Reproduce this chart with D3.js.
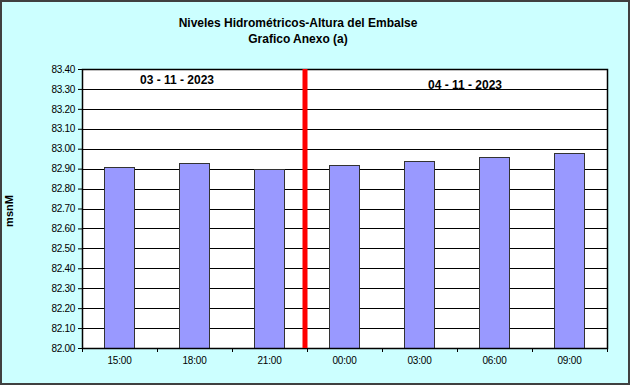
<html>
<head>
<script src="https://cdnjs.cloudflare.com/ajax/libs/d3/7.8.5/d3.min.js"></script>
<style>
  body { margin: 0; background: #fff; }
  svg { display: block; font-family: "Liberation Sans", Arial, sans-serif; }
</style>
</head>
<body>
<svg width="633" height="387"></svg>
<script>
  const hours = ['15:00', '18:00', '21:00', '00:00', '03:00', '06:00', '09:00']
  const levels = [82.91, 82.93, 82.90, 82.92, 82.94, 82.96, 82.98]
  const yTicks = [82.0, 82.1, 82.2, 82.3, 82.4, 82.5, 82.6, 82.7, 82.8, 82.9, 83.0, 83.1, 83.2, 83.3, 83.4]
  const dayLabels = ['03 - 11 - 2023', '04 - 11 - 2023']
  const dayChange = '00:00'   // red line sits just before this hour
  const titleLines = ['Niveles Hidrométricos-Altura del Embalse', 'Grafico Anexo (a)']
  const yLabel = 'msnM'

  const svg = d3.select('svg')
  const plotLeft = 82, plotRight = 607, plotTop = 69, plotBottom = 348

  // chart background and frame
  svg.append('rect').attr('x', 1).attr('y', 1).attr('width', 628).attr('height', 383)
    .attr('fill', '#ccffff').attr('stroke', '#404040').attr('stroke-width', 2)

  const x = d3.scaleBand().domain(hours).range([plotLeft, plotRight]).paddingInner(0.6).paddingOuter(0.3)
  const y = d3.scaleLinear().domain([82.0, 83.4]).range([plotBottom, plotTop])

  svg.append('rect').attr('x', plotLeft).attr('y', plotTop)
    .attr('width', plotRight - plotLeft).attr('height', plotBottom - plotTop).attr('fill', '#fff')

  // gridlines
  svg.append('g').selectAll('line').data(yTicks).enter().append('line')
    .attr('x1', plotLeft).attr('x2', plotRight)
    .attr('y1', d => Math.round(y(d)) + 0.5).attr('y2', d => Math.round(y(d)) + 0.5)
    .attr('stroke', '#000').attr('stroke-width', 1)

  // bars
  svg.append('g').selectAll('rect').data(levels).enter().append('rect')
    .attr('x', (d, i) => Math.round(x(hours[i])) - 0.5)
    .attr('y', d => Math.round(y(d)) + 0.5)
    .attr('width', x.bandwidth())
    .attr('height', d => Math.round(y(82.0)) - Math.round(y(d)))
    .attr('fill', '#9999ff').attr('stroke', '#333').attr('stroke-width', 1)

  // plot border
  svg.append('rect').attr('x', plotLeft + 0.5).attr('y', plotTop + 0.5)
    .attr('width', plotRight - plotLeft).attr('height', plotBottom - plotTop)
    .attr('fill', 'none').attr('stroke', '#000').attr('stroke-width', 1.5)

  // y axis
  const yAxis = d3.axisLeft(y).tickValues(yTicks).tickFormat(d3.format('.2f')).tickSize(4).tickPadding(3)
  const gy = svg.append('g').attr('transform', `translate(${plotLeft},0)`).call(yAxis)
  gy.select('.domain').remove()
  gy.selectAll('line').attr('stroke', '#000')
  gy.selectAll('text').attr('font-size', 10).attr('fill', '#000').attr('letter-spacing', -0.3)
    .attr('font-family', '"Liberation Sans", Arial, sans-serif')

  // x axis with ticks at band boundaries
  const step = x.step()
  const bounds = d3.range(hours.length + 1).map(i => plotLeft + i * (plotRight - plotLeft) / hours.length)
  svg.append('g').selectAll('line').data(bounds).enter().append('line')
    .attr('x1', d => Math.round(d) + 0.5).attr('x2', d => Math.round(d) + 0.5)
    .attr('y1', plotBottom).attr('y2', plotBottom + 4).attr('stroke', '#000')
  svg.append('g').selectAll('text').data(hours).enter().append('text')
    .attr('x', d => x(d) + x.bandwidth() / 2).attr('y', plotBottom + 16)
    .attr('text-anchor', 'middle').attr('font-size', 10).attr('letter-spacing', -0.2).text(d => d)

  // day separator
  const sepX = x(dayChange) - step * 0.3 - 2
  svg.append('line').attr('x1', sepX).attr('x2', sepX).attr('y1', plotTop).attr('y2', plotBottom)
    .attr('stroke', '#ff0000').attr('stroke-width', 5)

  // day labels
  svg.append('text').attr('x', 177).attr('y', 84).attr('text-anchor', 'middle')
    .attr('font-size', 12).attr('font-weight', 'bold').text(dayLabels[0])
  svg.append('text').attr('x', 465).attr('y', 89).attr('text-anchor', 'middle')
    .attr('font-size', 12).attr('font-weight', 'bold').text(dayLabels[1])

  // title
  svg.append('g').selectAll('text').data(titleLines).enter().append('text')
    .attr('x', 298).attr('y', (d, i) => 27 + i * 16).attr('text-anchor', 'middle')
    .attr('font-size', 12).attr('font-weight', 'bold').text(d => d)

  // y label
  svg.append('text').attr('transform', 'translate(13,211) rotate(-90)').attr('text-anchor', 'middle')
    .attr('font-size', 11).attr('font-weight', 'bold').text(yLabel)
</script>
</body>
</html>
